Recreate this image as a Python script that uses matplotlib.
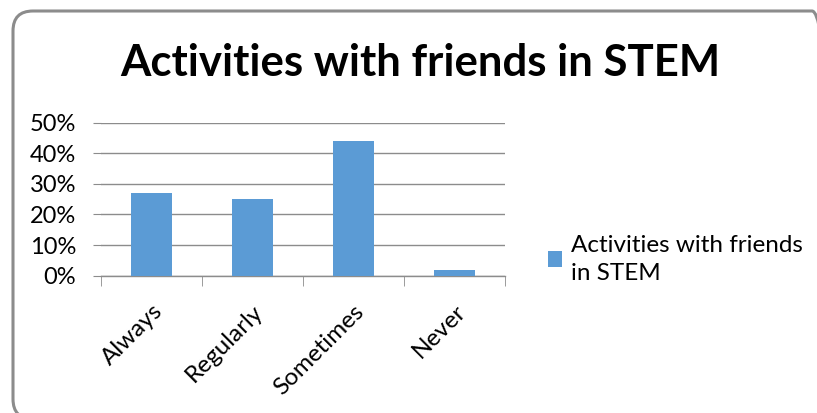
import matplotlib.pyplot as plt
from matplotlib.patches import FancyBboxPatch
from matplotlib.ticker import PercentFormatter

# chart data
categories = ['Always', 'Regularly', 'Sometimes', 'Never']
values = [27, 25, 44, 1.8]
y_ticks = [0, 10, 20, 30, 40, 50]
title = 'Activities with friends in STEM'
series_name = 'Activities with friends\nin STEM'

plt.rcParams['font.family'] = ['Lato', 'DejaVu Sans']

W, H = 817, 413
fig = plt.figure(figsize=(W / 100, H / 100), dpi=100)

# rounded chart border in inches (runs off the right and bottom edges)
border = FancyBboxPatch((0.13, -0.06), 8.32 - 0.13, 4.13 - 0.11 + 0.06,
                        boxstyle='round,pad=0,rounding_size=0.2',
                        transform=fig.dpi_scale_trans, facecolor='none',
                        edgecolor='#8c8c8c', linewidth=2.2, clip_on=False)
fig.patches.append(border)

ax = fig.add_axes([101 / W, 1 - 275.7 / H, 404 / W, 153 / H])

x = range(len(categories))
ax.bar(x, values, width=0.4, color='#5b9bd5', label=series_name, zorder=3)

ax.set_xlim(-0.5, len(categories) - 0.5)
ax.set_ylim(0, 50)
ax.set_yticks(y_ticks)
ax.yaxis.set_major_formatter(PercentFormatter(decimals=0))
ax.grid(axis='y', color='#8c8c8c', linewidth=1, zorder=0)

for s in ['top', 'right', 'left']:
    ax.spines[s].set_visible(False)
ax.spines['bottom'].set_color('#8c8c8c')
ax.spines['bottom'].set_linewidth(1)

ax.tick_params(axis='y', length=6, color='#8c8c8c', labelsize=17, pad=12)
ax.set_xticks(list(x))
ax.set_xticklabels(categories, rotation=45, ha='right', rotation_mode='anchor', fontsize=17.5)
ax.tick_params(axis='x', which='major', length=0, pad=18)
ax.set_xticks([i - 0.5 for i in range(len(categories) + 1)], minor=True)
ax.tick_params(axis='x', which='minor', length=7, color='#8c8c8c')

fig.text(420 / W, 1 - 63 / H, title, ha='center', va='center',
         fontsize=31.5, fontweight='bold')

fig.legend(loc='upper left', bbox_to_anchor=(526 / W, 1 - 213 / H),
           frameon=False, fontsize=17.5, handlelength=0.6, handleheight=0.6,
           handletextpad=0.35, labelspacing=0)
for t in fig.legends[0].get_texts():
    t.set_linespacing(1.4)

fig.savefig('out.png', dpi=100)
